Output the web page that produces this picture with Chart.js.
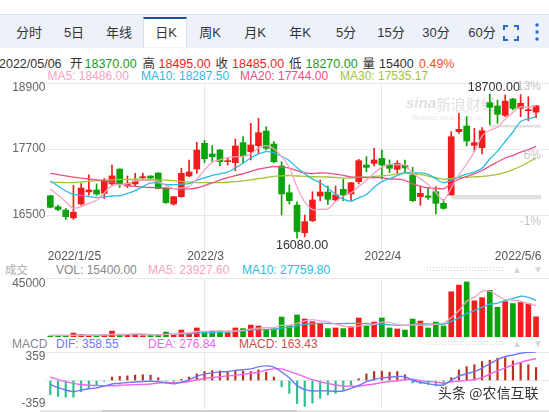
<!DOCTYPE html>
<html><head><meta charset="utf-8">
<script src="https://cdn.jsdelivr.net/npm/chart.js@4.4.1/dist/chart.umd.min.js"></script>
<style>
html,body{margin:0;padding:0;background:#fff;width:549px;height:412px;overflow:hidden;}
#wrap{position:relative;width:549px;height:412px;font-family:"Liberation Sans",Arial,"Noto Sans CJK SC",sans-serif;}
.t{position:absolute;white-space:nowrap;line-height:16px;height:16px;}
canvas{position:absolute;left:0;}
#tabbar{position:absolute;left:0;top:14px;width:549px;height:33px;background:#edf2fa;border-top:1px solid #dde5f0;}
#active{position:absolute;left:143px;top:17px;width:44px;height:30px;background:#fff;border-top:2.5px solid #1f4f95;box-sizing:border-box;border-left:1px solid #d8e0ec;border-right:1px solid #d8e0ec;}
.tab{position:absolute;top:25px;font-size:13px;color:#333;width:60px;text-align:center;line-height:16px;}
</style></head>
<body><div id="wrap">
<div id="tabbar"></div><div id="active"></div>
<div id="tabs"></div>
<svg style="position:absolute;left:503px;top:25px" width="16" height="16"><path d="M1 5V1H5M11 1H15V5M15 11V15H11M5 15H1V11" fill="none" stroke="#2a6bd0" stroke-width="2"/></svg>
<svg style="position:absolute;left:534px;top:22px" width="6" height="20"><circle cx="3" cy="3" r="1.7" fill="#2a6bd0"/><circle cx="3" cy="10" r="1.7" fill="#2a6bd0"/><circle cx="3" cy="17" r="1.7" fill="#2a6bd0"/></svg>
<div id="hdr"></div>
<canvas id="main" width="549" height="185" style="top:80px"></canvas>
<canvas id="vol" width="549" height="64" style="top:276px"></canvas>
<canvas id="macd" width="549" height="64" style="top:348px"></canvas>
<div class="t" style="left:438px;top:383px;font-family:'Noto Sans CJK SC';font-size:14px;line-height:18px;color:#333;text-shadow:0 0 2px #fff,0 0 2px #fff">头条 @农信互联</div>
</div>
<script>
// ---------- data ----------
const dates=['2022/1/25','2022/1/26','2022/1/27','2022/1/28','2022/2/7','2022/2/8','2022/2/9','2022/2/10','2022/2/11','2022/2/14','2022/2/15','2022/2/16','2022/2/17','2022/2/18','2022/2/21','2022/2/22','2022/2/23','2022/2/24','2022/2/25','2022/2/28',
'2022/3/1','2022/3/2','2022/3/3','2022/3/4','2022/3/7','2022/3/8','2022/3/9','2022/3/10','2022/3/11','2022/3/14','2022/3/15','2022/3/16','2022/3/17','2022/3/18','2022/3/21','2022/3/22','2022/3/23','2022/3/24','2022/3/25','2022/3/28','2022/3/29','2022/3/30','2022/3/31',
'2022/4/1','2022/4/6','2022/4/7','2022/4/8','2022/4/11','2022/4/12','2022/4/13','2022/4/14','2022/4/15','2022/4/18','2022/4/19','2022/4/20','2022/4/21','2022/4/22','2022/4/25','2022/4/26','2022/4/27','2022/4/28','2022/4/29','2022/5/5','2022/5/6'];
const openP=[16850,16650,16590,16450,16700,16920,16955,16895,17065,17335,17030,17064,17179,17209,17264,16990,16700,16833,17209,17336,17803,17609,17682,17470,17452,17815,17652,17761,18027,17791,17391,16906,16680,16179,16397,16846,16918,16773,16967,16882,17106,17409,17439,17530,17409,17330,17403,17227,16833,16846,16924,16712,16864,18015,18118,17767,17724,18542,18482,18312,18609,18439,18397,18370];
const highP=[16860,16680,16620,17040,17070,17230,17065,17165,17410,17340,17210,17258,17258,17215,17270,17000,16840,17349,17500,17821,17858,17761,17690,17542,17882,17924,18167,18258,18106,17833,17470,17045,16740,16500,16924,17136,17027,17027,17155,17095,17512,17561,17712,17682,17500,17488,17500,17367,17015,17003,17015,16785,18015,18348,18288,18076,18090,18700,18591,18682,18621,18690,18651,18495];
const lowP=[16630,16580,16420,16420,16680,16860,16860,16800,17040,17000,17000,17027,17136,17136,16975,16710,16680,16821,17197,17258,17452,17470,17391,17409,17306,17439,17500,17609,17682,17452,16500,16700,16080,16106,16379,16761,16694,16742,16761,16761,17064,17288,17391,17155,17270,17245,17288,16742,16676,16785,16518,16603,16864,17985,17755,17652,17609,18140,18167,18288,18409,18288,18215,18270];
const closeP=[16640,16600,16470,16550,16990,16955,16880,17135,17210,17065,17070,17118,17197,17173,16979,16725,16833,17258,17282,17682,17524,17561,17470,17482,17755,17573,17773,17997,17712,17470,16882,16761,16200,16379,16773,16918,16785,16864,16864,17088,17488,17367,17500,17409,17349,17439,17355,16761,16894,16821,16712,16621,17924,18058,17845,17815,18033,18458,18330,18570,18439,18530,18409,18485];
const ma5=[16973,16864,16743,16621,16650,16713,16769,16902,17034,17049,17072,17120,17132,17125,17107,17038,16981,16994,17015,17156,17316,17461,17504,17544,17558,17568,17611,17716,17762,17705,17567,17364,17005,16738,16599,16606,16611,16744,16841,16904,17018,17134,17261,17370,17423,17413,17410,17263,17160,17054,16909,16762,16994,17227,17432,17653,17935,18042,18096,18241,18366,18465,18456,18486];
const ma10=[17118,17027,16936,16876,16858,16833,16821,16827,16846,16850,16893,16944,17017,17079,17078,17055,17051,17063,17070,17132,17177,17221,17249,17280,17357,17442,17536,17610,17653,17632,17568,17488,17361,17250,17152,17087,16988,16874,16790,16751,16812,16873,17003,17106,17163,17215,17272,17262,17265,17238,17161,17086,17129,17193,17243,17281,17348,17518,17662,17837,18009,18200,18249,18287.5];
const ma20=[17258,17235,17210,17190,17172,17155,17140,17120,17095,17065,17040,17020,17008,17000,16995,16990,16980,16970,16975,16991,17035,17083,17133,17179,17218,17249,17293,17336,17361,17382,17372,17354,17305,17265,17255,17264,17262,17242,17221,17192,17190,17180,17182,17178,17158,17151,17130,17068,17027,16995,16986,16979,17066,17150,17203,17248,17310,17390,17463,17537,17585,17643,17689,17744];
const ma30=[17094,17092,17090,17088,17100,17112,17124,17132,17140,17146,17149,17150,17150,17149,17140,17136,17125,17110,17098,17090,17088,17088,17090,17096,17106,17120,17140,17160,17182,17204,17212,17218,17209,17203,17196,17195,17191,17182,17171,17172,17186,17194,17204,17212,17224,17248,17265,17249,17236,17207,17180,17149,17164,17183,17186,17194,17203,17218,17239,17275,17327,17386,17460,17535.17];
const vol=[760,500,600,3000,2000,900,800,1800,4500,1500,1900,2200,1000,1800,1400,3800,2000,5300,3000,6900,3800,4300,4600,3300,6900,6400,9100,8400,5100,6400,15200,8900,16800,13700,11700,10200,6400,6900,6400,7900,14500,8400,11400,14500,6900,6100,5300,13700,12200,6900,11400,8400,34500,39600,42000,27600,30000,35600,22700,27000,25500,26300,25400,15400];
const volMa5=[1300,1250,1200,1300,1372,1400,1460,1700,2000,1900,2100,2380,2220,1680,1660,2040,2000,2860,3100,4200,4200,4660,4520,4580,4580,5100,6060,6820,7180,7080,8840,8800,10480,12200,13260,12260,11760,9780,8320,7560,8420,8820,9720,11340,11140,9460,8840,9300,8840,8840,9900,10520,14680,20160,27180,30420,34740,34960,31580,28580,28160,27420,25380,23927.6];
const volMa10=[1200,1200,1250,1300,1350,1400,1450,1500,1550,1636,1750,1920,1960,1840,1780,2070,2190,2540,2390,2930,3120,3330,3690,3840,4390,4650,5360,5670,5880,5830,6970,7430,8650,9690,10170,10550,10280,10130,10260,10410,10340,10290,9750,9830,9350,8940,8830,9510,10090,9990,9680,9680,11990,14500,18010,20160,22630,24820,25870,27880,29290,31080,30170,27759.8];
const dif=[-49,-89,-120,-141,-121,-104,-93,-70,-44,-34,-26,-18,-13,-10,-14,-28,-43,-20,9,52,81,99,108,114,128,136,147,171,184,168,107,34,-62,-116,-132,-129,-131,-136,-132,-100,-63,-15,13,33,41,51,49,0,-22,-40,-55,-57,2,56,86,111,158,210,262,302,321,343,354,358.55];
const dea=[41,11,-15,-36,-51,-60,-63,-65,-66,-60,-56,-52,-49,-44,-31,-26,-27,-26,-13,10,25,37,48,58,65,77,91,104,132,147,147,115,83,46,11,-17,-40,-55,-71,-70,-74,-56,-44,-25,-12,-6,13,15,-2,-14,-21,-33,-15,-10,-2,12,38,82,122,158,197,229,255,276.84];
const macdBar=[-180,-200,-210,-210,-140,-90,-60,-10,43,51,59,68,72,68,35,-5,-31,14,43,84,113,125,121,113,125,117,113,133,105,43,-80,-162,-290,-326,-285,-223,-182,-162,-121,-59,23,84,113,117,105,113,72,-31,-39,-51,-68,-47,35,133,174,199,240,256,281,289,248,228,199,163.43];
const xTickIdx=[0,20,43,63];
const xTickLabels=['2022/1/25','2022/3','2022/4','2022/5/6'];
const priceTicks=[16500,17700,18900];
const pctLabels=['-1%','6%','13%'];
const volTicks=[45000];
const macdTicks=[0,359];
const macdLabels=['359','-359'];
const gapFrom=[52,57];
const gapLow=[16785,18090];
const gapHigh=[16864,18140];
const tabNames=['分时','5日','年线','日K','周K','月K','年K','5分','15分','30分','60分'];

// ---------- styles ----------
const UP='#f21c1c', DN='#0aa30a';
const C_MA5='#f7a3c2', C_MA10='#2cbbe0', C_MA20='#ec4f7e', C_MA30='#a2c536';
const GRID='#e8e8e8';
const FONT='"Liberation Sans", Arial, sans-serif';
const XMIN=-0.558, XMAX=64.68;

// ---------- html texts ----------
const tabX=[29,74,119,166,210,255,300,346,391,436,482];
document.getElementById('tabs').innerHTML=tabNames.map((n,i)=>`<div class="tab" style="left:${tabX[i]-30}px">${n}</div>`).join('');
function txt(x,yc,s,color,size){return `<div class="t" style="left:${x}px;top:${yc-8}px;color:${color};font-size:${size}px">${s}</div>`;}
const last=dates.length-1;
let h='';
h+=txt(-1,63.5,'2022/05/06','#333',12.5);
h+=txt(70,63.5,'开','#333',12.5)+txt(84.5,63.5,openP[last].toFixed(2),'#1c9a1c',12.5);
h+=txt(142.5,63.5,'高','#333',12.5)+txt(158.5,63.5,highP[last].toFixed(2),'#f01e1e',12.5);
h+=txt(215.5,63.5,'收','#333',12.5)+txt(232,63.5,closeP[last].toFixed(2),'#f01e1e',12.5);
h+=txt(289,63.5,'低','#333',12.5)+txt(305.5,63.5,lowP[last].toFixed(2),'#1c9a1c',12.5);
h+=txt(362.5,63.5,'量','#333',12.5)+txt(379,63.5,String(vol[last]),'#333',12.5);
h+=txt(419,63.5,'0.49%','#f5502a',12.5);
h+=txt(47.5,75.5,'MA5: '+ma5[last].toFixed(2),C_MA5,12)+txt(141,75.5,'MA10: '+ma10[last].toFixed(2),C_MA10,12)+txt(240,75.5,'MA20: '+ma20[last].toFixed(2),C_MA20,12)+txt(340,75.5,'MA30: '+ma30[last].toFixed(2),C_MA30,12);
h+=txt(5,270,'成交','#aaa',11.5)+txt(56,270,'VOL: '+vol[last].toFixed(2),'#888',12)+txt(148,270,'MA5: '+volMa5[last].toFixed(2),C_MA5,12)+txt(242,270,'MA10: '+volMa10[last].toFixed(2),C_MA10,12);
h+=txt(12,343.5,'MACD','#888',12)+txt(56,343.5,'DIF: '+dif[last].toFixed(2),'#6b7af2',12)+txt(148,343.5,'DEA: '+dea[last].toFixed(2),'#f064ee',12)+txt(239,343.5,'MACD: '+macdBar[last].toFixed(2),'#c4504a',12);
[266,340].forEach(y=>{
  h+=`<div style="position:absolute;left:426px;top:${y}px;width:77px;height:7px;background-image:radial-gradient(circle,#d4d4d4 0.8px,transparent 1px);background-size:3px 3px"></div>`;
  h+=`<div class="t" style="left:512px;top:${y-4}px;font-size:10px;color:#d6d6d6">▲</div><div class="t" style="left:533px;top:${y-4}px;font-size:10px;color:#d6d6d6">▼</div>`;
});
h+=`<div style="position:absolute;left:40px;top:410px;width:509px;height:2px;background:#e6e6e6"></div><div style="position:absolute;left:102px;top:410px;width:195px;height:2px;background:#cfcfcf"></div>`;
document.getElementById('hdr').innerHTML=h;

// ---------- helpers ----------
const idx=dates.map((d,i)=>i);
const candleColor=idx.map(i=>closeP[i]>=openP[i]?UP:DN);
const pts=a=>a.map((v,i)=>({x:i,y:v}));
function line(data,color,w){return {type:'line',data:pts(data),borderColor:color,borderWidth:w||1.3,pointRadius:0,tension:0.25,order:0};}
function xScale(){return {type:'linear',min:XMIN,max:XMAX,offset:false,grace:0,bounds:'data',beginAtZero:false,
  afterBuildTicks:s=>{s.ticks=[{value:xTickIdx[1]},{value:xTickIdx[2]}];},ticks:{display:false},grid:{color:GRID,drawTicks:false,offset:false},border:{display:false}};}
function yScale(min,max,ticks){return {min,max,beginAtZero:false,grace:0,afterBuildTicks:s=>{s.ticks=ticks.map(v=>({value:v}));},ticks:{display:false},grid:{color:GRID,drawTicks:false},border:{display:false}};}
const base={responsive:false,animation:false,devicePixelRatio:1,events:[],plugins:{legend:{display:false},tooltip:{enabled:false}}};

// ---------- main chart ----------
const mainPlugin={id:'mainDeco',
  beforeDatasetsDraw(chart){
    const {ctx,scales:{x,y}}=chart; ctx.save();
    ctx.fillStyle='#e1e1e1';
    gapFrom.forEach((f,k)=>{const x0=x.getPixelForValue(f),x1=x.getPixelForValue(last+0.65);const y0=y.getPixelForValue(gapHigh[k]),y1=y.getPixelForValue(gapLow[k]);ctx.fillRect(x0,y0,x1-x0,y1-y0);});
    ctx.fillStyle='#e0e0e0';ctx.textBaseline='middle';ctx.textAlign='left';
    ctx.font='italic bold 15px '+FONT;ctx.fillText('sina',406,24);
    ctx.font='15px "Noto Sans CJK SC"';ctx.fillText('新浪财经',436,24);
    ctx.fillStyle='#e8e8e8';ctx.font='8px '+FONT;ctx.fillText('finance.sina.com.cn',412,38);
    ctx.restore();
  },
  afterDraw(chart){
    const {ctx,scales:{x,y}}=chart; ctx.save();
    ctx.font='12px '+FONT; ctx.textBaseline='middle';
    ctx.fillStyle='#c4c4c4'; ctx.textAlign='right';
    priceTicks.forEach((v,k)=>{const py=y.getPixelForValue(v)+(k===priceTicks.length-1?4:6.5);ctx.fillText(pctLabels[k],541,py);});
    ctx.fillStyle='#666';
    priceTicks.forEach((v,k)=>{const py=y.getPixelForValue(v)+(k===priceTicks.length-1?4.5:0);ctx.fillText(String(v),45.5,py);});
    ctx.fillStyle='#555';
    xTickIdx.forEach((i,k)=>{const px=x.getPixelForValue(i);
      if(k===0){ctx.textAlign='left';ctx.fillText(xTickLabels[k],px-2.5,177);}
      else if(k===xTickIdx.length-1){ctx.textAlign='right';ctx.fillText(xTickLabels[k],px+5.5,177);}
      else{ctx.textAlign='center';ctx.fillText(xTickLabels[k],px+1,177);} });
    let hi=0,lo=0; idx.forEach(i=>{if(highP[i]>highP[hi])hi=i;if(lowP[i]<lowP[lo])lo=i;});
    ctx.fillStyle='#333';ctx.textAlign='center';ctx.font='12.5px '+FONT;
    ctx.fillText(highP[hi].toFixed(2),x.getPixelForValue(hi)+4,y.getPixelForValue(highP[hi])-6.5);
    ctx.fillText(lowP[lo].toFixed(2),x.getPixelForValue(lo)+5,y.getPixelForValue(lowP[lo])+7);
    ctx.restore();
  }};
new Chart(document.getElementById('main'),{type:'bar',
  data:{datasets:[
    line(ma5,C_MA5),line(ma10,C_MA10),line(ma20,C_MA20),line(ma30,C_MA30),
    {data:idx.map(i=>({x:i,y:[lowP[i],highP[i]]})),backgroundColor:candleColor,barThickness:1,grouped:false,order:2},
    {data:idx.map(i=>({x:i,y:[openP[i],closeP[i]]})),backgroundColor:candleColor,barThickness:6,minBarLength:1,grouped:false,order:1}
  ]},
  options:Object.assign({},base,{layout:{padding:{left:46,right:0,top:3,bottom:15}},
    scales:{x:xScale(),y:yScale(15864,18900,priceTicks)}}),
  plugins:[mainPlugin]});

// ---------- volume chart ----------
const volPlugin={id:'volDeco',afterDraw(chart){const {ctx,scales:{y}}=chart;ctx.save();ctx.font='12px '+FONT;ctx.fillStyle='#666';ctx.textAlign='right';ctx.textBaseline='middle';
  volTicks.forEach(v=>ctx.fillText(String(v),45.5,y.getPixelForValue(v)+6));ctx.restore();}};
new Chart(document.getElementById('vol'),{type:'bar',
  data:{datasets:[
    line(volMa5,C_MA5),line(volMa10,C_MA10),
    {data:idx.map(i=>({x:i,y:vol[i]})),backgroundColor:candleColor,barThickness:5,grouped:false,order:1}
  ]},
  options:Object.assign({},base,{layout:{padding:{left:46,right:0,top:2,bottom:3}},
    scales:{x:xScale(),y:yScale(0,45000,volTicks)}}),
  plugins:[volPlugin]});

// ---------- MACD chart ----------
const macdPlugin={id:'macdDeco',afterDraw(chart){const {ctx,scales:{y}}=chart;ctx.save();ctx.font='12px '+FONT;ctx.fillStyle='#666';ctx.textAlign='right';ctx.textBaseline='middle';
  ctx.fillText(macdLabels[0],45.5,y.getPixelForValue(359)+5);ctx.fillText(macdLabels[1],45.5,y.getPixelForValue(-359)-5);ctx.restore();}};
new Chart(document.getElementById('macd'),{type:'bar',
  data:{datasets:[
    line(dif,'#6b7af2',1.4),line(dea,'#f064ee',1.4),
    {data:idx.map(i=>({x:i,y:macdBar[i]})),backgroundColor:macdBar.map(v=>v>=0?'#b8301c':'#2cbf8e'),barThickness:1.5,grouped:false,order:1}
  ]},
  options:Object.assign({},base,{layout:{padding:{left:46,right:0,top:4,bottom:3}},
    scales:{x:xScale(),y:yScale(-359,359,macdTicks)}}),
  plugins:[macdPlugin]});
</script>
</body></html>
